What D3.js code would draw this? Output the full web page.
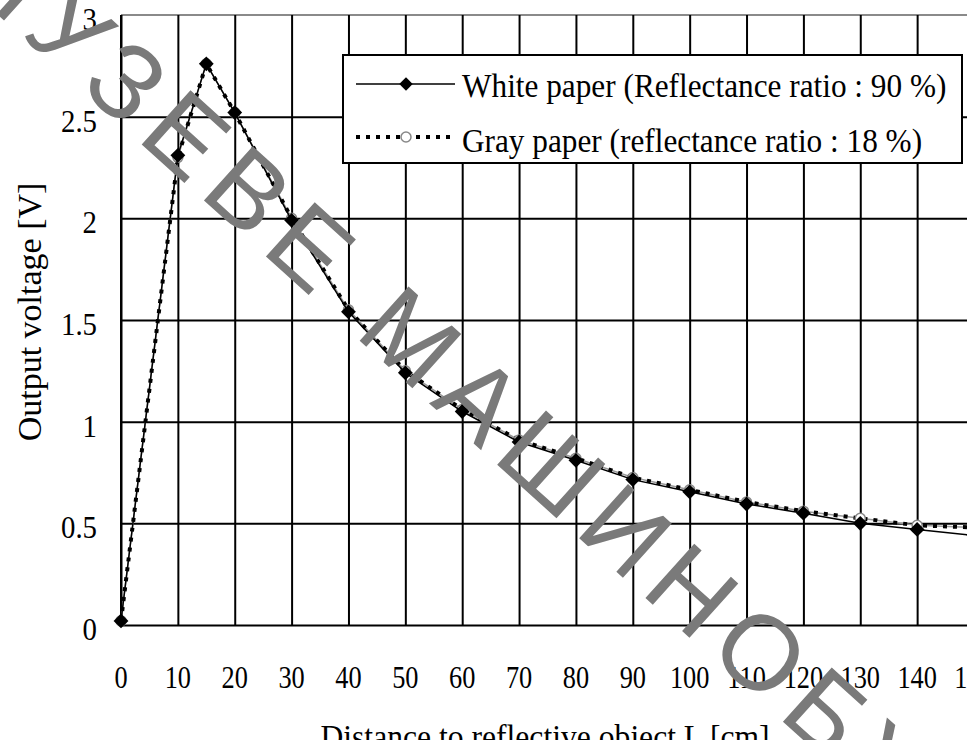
<!DOCTYPE html>
<html>
<head>
<meta charset="utf-8">
<script src="https://cdn.jsdelivr.net/npm/d3@7"></script>
<style>
  body { margin: 0; background: #fff; overflow: hidden; }
  svg { display: block; }
  text { font-family: "Liberation Serif", "Times New Roman", serif; fill: #000; }
</style>
</head>
<body>
<div id="chart"></div>
<script>
// distance to reflective object [cm]
var distances = [0, 10, 15, 20, 30, 40, 50, 60, 70, 80, 90, 100, 110, 120, 130, 140, 150];
// output voltage [V], white paper (90 %)
var whitePaper = [0.02, 2.31, 2.76, 2.52, 1.99, 1.54, 1.24, 1.05, 0.90, 0.81, 0.715, 0.655, 0.595, 0.55, 0.50, 0.47, 0.44];
// output voltage [V], gray paper (18 %)
var grayPaper = [0.02, 2.30, 2.76, 2.52, 2.00, 1.55, 1.25, 1.06, 0.91, 0.82, 0.725, 0.665, 0.605, 0.56, 0.525, 0.49, 0.48];

var xTicks = [0, 10, 20, 30, 40, 50, 60, 70, 80, 90, 100, 110, 120, 130, 140, 150];
var yTicks = [0, 0.5, 1, 1.5, 2, 2.5, 3];
var legendLabels = ["White paper (Reflectance ratio : 90 %)", "Gray paper (reflectance ratio : 18 %)"];

var W = 967, H = 740;
var margin = { top: 15, right: -7, bottom: 115, left: 121 };
var width = W - margin.left - margin.right,
    height = H - margin.top - margin.bottom;

var svg = d3.select("#chart").append("svg")
    .attr("width", W)
    .attr("height", H);

var g = svg.append("g")
    .attr("transform", "translate(" + margin.left + "," + margin.top + ")");

var x = d3.scaleLinear().domain([0, 150]).range([0, width]);
var y = d3.scaleLinear().domain([0, 3]).range([height, 0]);

// top frame line (gray)
g.append("line")
    .attr("x1", 0).attr("x2", width)
    .attr("y1", 0).attr("y2", 0)
    .attr("stroke", "#8a8a8a")
    .attr("stroke-width", 2);

// vertical grid
g.append("g")
    .attr("class", "grid-x")
    .attr("transform", "translate(0," + height + ")")
    .call(d3.axisBottom(x).tickValues(xTicks).tickSize(-height).tickFormat(""))
    .call(function(s) {
        s.select(".domain").remove();
        s.selectAll("line").attr("stroke", "#000").attr("stroke-width", 2);
    });

// horizontal grid
g.append("g")
    .attr("class", "grid-y")
    .call(d3.axisLeft(y).tickValues(yTicks.slice(0, -1)).tickSize(-width).tickFormat(""))
    .call(function(s) {
        s.select(".domain").remove();
        s.selectAll("line").attr("stroke", "#000").attr("stroke-width", 2);
    });

// left axis line
g.append("line")
    .attr("x1", 0).attr("x2", 0)
    .attr("y1", 0).attr("y2", height)
    .attr("stroke", "#000")
    .attr("stroke-width", 2);

// tick labels (the scan is squeezed a bit horizontally)
g.append("g")
    .selectAll("text")
    .data(xTicks)
    .enter().append("text")
    .attr("transform", function(d) { return "translate(" + x(d) + "," + (height + 63) + ") scale(0.85,1)"; })
    .attr("text-anchor", "middle")
    .style("font-size", "31px")
    .text(function(d) { return d; });

g.append("g")
    .selectAll("text")
    .data(yTicks)
    .enter().append("text")
    .attr("transform", function(d) { return "translate(-24," + (y(d) + 15) + ") scale(0.9,1)"; })
    .attr("text-anchor", "end")
    .style("font-size", "32px")
    .text(function(d) { return d; });

// axis titles
svg.append("text")
    .attr("transform", "translate(545,748) scale(0.93,1)")
    .attr("text-anchor", "middle")
    .style("font-size", "34px")
    .text("Distance to reflective object L [cm]");

svg.append("text")
    .attr("transform", "translate(41,312) rotate(-90)")
    .attr("text-anchor", "middle")
    .style("font-size", "34px")
    .text("Output voltage [V]");

// series
var whiteData = distances.map(function(d, i) { return { x: d, y: whitePaper[i] }; });
var grayData = distances.map(function(d, i) { return { x: d, y: grayPaper[i] }; });

var line = d3.line()
    .x(function(d) { return x(d.x); })
    .y(function(d) { return y(d.y); });

g.append("path")
    .datum(grayData)
    .attr("fill", "none")
    .attr("stroke", "#999")
    .attr("stroke-width", 1.5)
    .attr("d", line);

g.append("path")
    .datum(grayData)
    .attr("fill", "none")
    .attr("stroke", "#000")
    .attr("stroke-width", 4)
    .attr("stroke-dasharray", "4,6")
    .attr("d", line);

g.append("g")
    .selectAll("circle")
    .data(grayData)
    .enter().append("circle")
    .attr("cx", function(d) { return x(d.x); })
    .attr("cy", function(d) { return y(d.y); })
    .attr("r", 5)
    .attr("fill", "#fff")
    .attr("stroke", "#888")
    .attr("stroke-width", 1.5);

g.append("path")
    .datum(whiteData)
    .attr("fill", "none")
    .attr("stroke", "#000")
    .attr("stroke-width", 1.5)
    .attr("d", line);

var diamond = d3.symbol().type(d3.symbolSquare).size(110);

g.append("g")
    .selectAll("path")
    .data(whiteData)
    .enter().append("path")
    .attr("d", diamond)
    .attr("transform", function(d) { return "translate(" + x(d.x) + "," + y(d.y) + ") rotate(45)"; })
    .attr("fill", "#000");

// legend
var legend = svg.append("g").attr("transform", "translate(343,55)");

legend.append("rect")
    .attr("width", 619)
    .attr("height", 108)
    .attr("fill", "#fff")
    .attr("stroke", "#000")
    .attr("stroke-width", 2);

legend.append("line")
    .attr("x1", 13).attr("x2", 112)
    .attr("y1", 29).attr("y2", 29)
    .attr("stroke", "#000")
    .attr("stroke-width", 1.5);

legend.append("path")
    .attr("d", d3.symbol().type(d3.symbolSquare).size(90))
    .attr("transform", "translate(63,29) rotate(45)")
    .attr("fill", "#000");

legend.append("line")
    .attr("x1", 13).attr("x2", 112)
    .attr("y1", 82).attr("y2", 82)
    .attr("stroke", "#000")
    .attr("stroke-width", 4)
    .attr("stroke-dasharray", "4,6");

legend.append("circle")
    .attr("cx", 63).attr("cy", 82)
    .attr("r", 5)
    .attr("fill", "#fff")
    .attr("stroke", "#888")
    .attr("stroke-width", 1.5);

legend.selectAll("text.lbl")
    .data(legendLabels)
    .enter().append("text")
    .attr("class", "lbl")
    .attr("transform", function(d, i) { return "translate(119," + (42 + i * 55) + ") scale(0.92,1)"; })
    .style("font-size", "34px")
    .text(function(d) { return d; });

// watermark
svg.append("text")
    .attr("transform", "translate(452,374) rotate(42)")
    .attr("text-anchor", "middle")
    .attr("dy", "0.35em")
    .style("font-family", "'Liberation Sans', Arial, sans-serif")
    .style("font-size", "106px")
    .style("letter-spacing", "13px")
    .style("fill", "#7a7a7a")
    .text("ЛУЗЕВЕ МАШИНОБУ");
</script>
</body>
</html>
